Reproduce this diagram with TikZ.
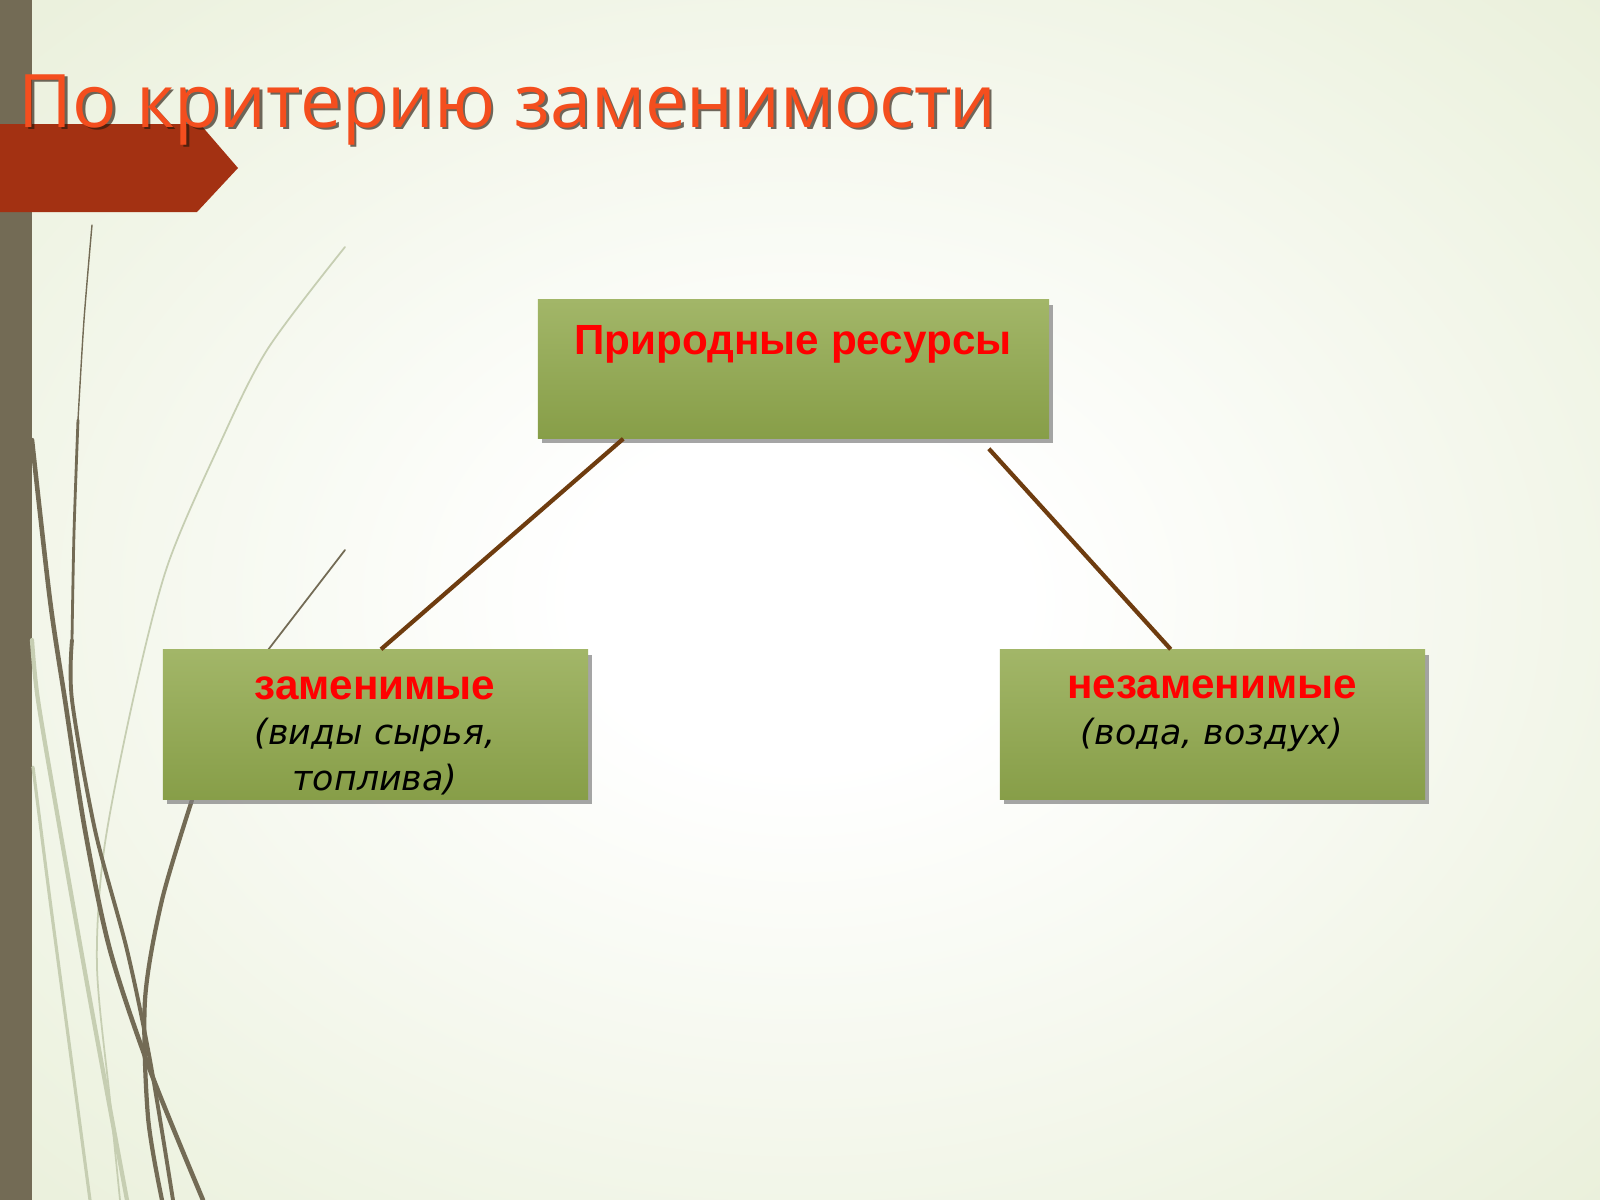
\documentclass[tikz,border=0pt]{standalone}
\usepackage{fontspec}
\setmainfont{DejaVu Sans}
\newfontfamily\titlefont{Open Sans}
\newfontfamily\headfont{Liberation Sans}
\usetikzlibrary{calc}
\usetikzlibrary{shadows}
\definecolor{bgedge}{RGB}{224,233,202}
\definecolor{wispbar}{RGB}{115,107,85}
\definecolor{wisplight}{RGB}{198,206,178}
\definecolor{tabred}{RGB}{163,49,18}
\definecolor{titlered}{RGB}{244,78,30}
\definecolor{boxtop}{RGB}{162,182,104}
\definecolor{boxbot}{RGB}{135,158,72}
\definecolor{linkbrown}{RGB}{110,60,15}
\pgfdeclareradialshading{slideglow}{\pgfpoint{0bp}{0bp}}{%
	color(0bp)=(white); color(7bp)=(white); color(30bp)=(bgedge!55!white); color(50bp)=(bgedge)}
\tikzset{
	resbox/.style={rectangle, top color=boxtop, bottom color=boxbot, draw=none,
		drop shadow={shadow xshift=1.1pt, shadow yshift=-1.5pt, opacity=.7}},
	boxtxt/.style={align=center, inner sep=0, font=\fontsize{9.9}{12.8}\selectfont},
	link/.style={draw=linkbrown, line width=1.2pt},
	wisp/.style={draw=wispbar, line cap=round},
	wispfaint/.style={draw=wisplight, line cap=round}
}
\newcommand\redword[1]{{\headfont\fontsize{12}{12.8}\selectfont\bfseries\color{red}#1}}

\begin{document}
\begin{tikzpicture}[x=0.01cm, y=-0.01cm]
	\useasboundingbox (0,0) rectangle (1600,1200);
	%BACKGROUND
	\shade[shading=slideglow] (0,0) rectangle (1600,1200);
	\fill[wispbar] (0,0) rectangle (32,1200);
	
	%WISPS
	\draw[wispfaint, line width=0.5pt] plot[smooth] coordinates {(345,247) (267,350) (217,450) (167,567) (133,700) (104,850) (97,967) (110,1100) (120,1200)};
	\draw[wispfaint, line width=1.2pt] plot[smooth] coordinates {(32,640) (38,700) (60,830) (90,1000) (127,1200)};
	\draw[wispfaint, line width=0.9pt] plot[smooth] coordinates {(33,767) (50,900) (70,1050) (90,1200)};
	\draw[wisp, line width=0.4pt] plot[smooth] coordinates {(92,225) (84,320) (78,420)};
	\draw[wisp, line width=0.8pt] plot[smooth] coordinates {(78,420) (74,533) (72,640)};
	\draw[wisp, line width=1.1pt] plot[smooth] coordinates {(72,640) (72,700) (95,830) (127,950) (150,1060) (173,1200)};
	\draw[wisp, line width=1.3pt] plot[smooth] coordinates {(32,440) (50,600) (65,700) (85,830) (110,950) (150,1070) (203,1200)};
	\draw[wisp, line width=1.2pt] plot[smooth] coordinates {(192,800) (162,900) (145,1000) (148,1117) (162,1200)};
	\draw[wisp, line width=0.5pt] (345,550) -- (268,650);
	
	%TITLE
	\fill[tabred] (0,124) -- (200,124) -- (238,168) -- (197,212) -- (0,212) -- cycle;
	\node[anchor=base west, inner sep=0, text=black!80!brown, opacity=.65, font=\titlefont\fontsize{21}{24}\selectfont] (titleshadow) at (20.5,129.5) {По критерию заменимости};
	\node[anchor=base west, inner sep=0, text=titlered, font=\titlefont\fontsize{21}{24}\selectfont] (title) at (18,127) {По критерию заменимости};
	
	%BOXES
	\node[resbox, minimum width=5.11cm, minimum height=1.38cm] (res) at (793.5,369) {};
	\node[resbox, minimum width=4.25cm, minimum height=1.49cm] (repl) at (375.5,724.5) {};
	\node[resbox, minimum width=4.25cm, minimum height=1.49cm] (nonrepl) at (1212.5,724.5) {};
	
	%CONNECTORS
	\draw[link] ($(res.south west)!0.168!(res.south east)$) -- ($(repl.north west)!0.513!(repl.north east)$);
	\draw[link] ($(res.south west)!0.881!(res.south east)$) ++(0,10) -- ($(nonrepl.north west)!0.402!(nonrepl.north east)$);
	
	%LABELS (base = last line)
	\node[boxtxt, anchor=base] (restxt) at (793,354) {\redword{Природные ресурсы}};
	\node[boxtxt, anchor=base] (repltxt) at (375,790) {%
		\redword{заменимые}\\
		\textit{(виды сырья,}\\
		\textit{топлива)}};
	\node[boxtxt, anchor=base] (nonrepltxt) at (1212,744) {%
		\redword{незаменимые}\\
		\textit{(вода, воздух)}};
\end{tikzpicture}
\end{document}
